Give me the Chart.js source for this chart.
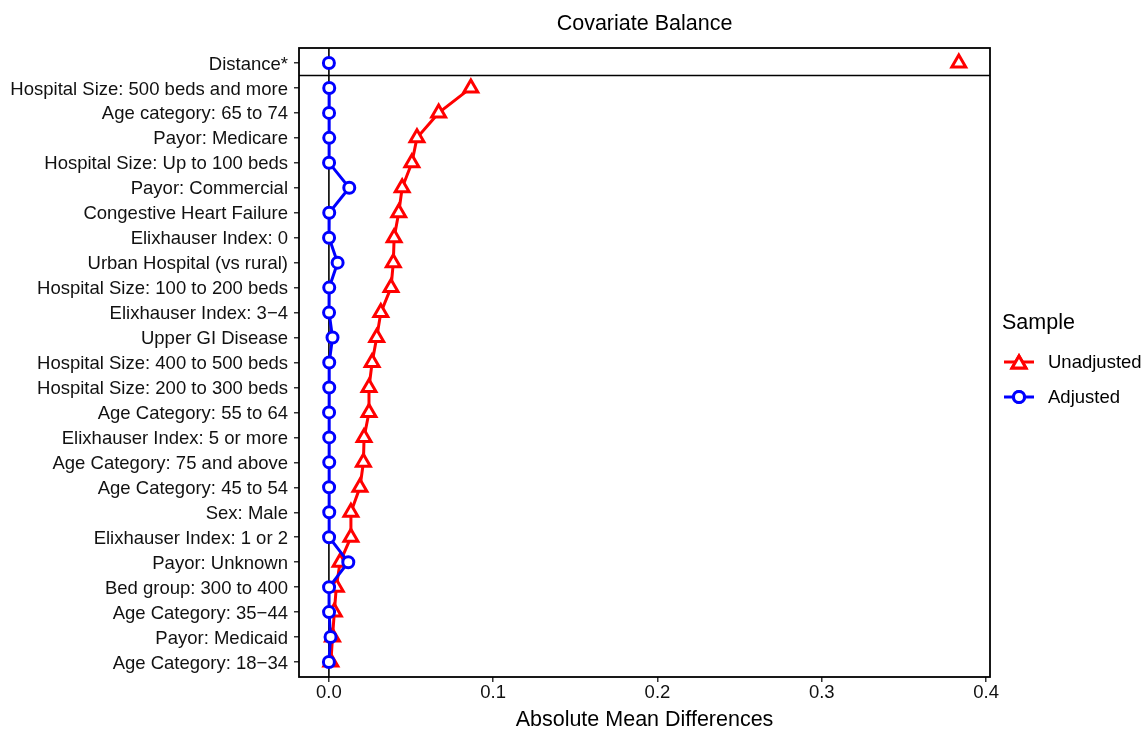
<!DOCTYPE html>
<html>
<head>
<meta charset="utf-8">
<script src="https://cdn.jsdelivr.net/npm/chart.js@4"></script>
<style>
  html, body { margin: 0; padding: 0; background: #fff; }
  #wrap { width: 1143px; height: 730px; }
</style>
</head>
<body>
<div id="wrap"><canvas id="chart" width="1143" height="730"></canvas></div>
<script>
// covariates, top to bottom
const covariates = [
  "Distance*",
  "Hospital Size: 500 beds and more",
  "Age category: 65 to 74",
  "Payor: Medicare",
  "Hospital Size: Up to 100 beds",
  "Payor: Commercial",
  "Congestive Heart Failure",
  "Elixhauser Index: 0",
  "Urban Hospital (vs rural)",
  "Hospital Size: 100 to 200 beds",
  "Elixhauser Index: 3\u22124",
  "Upper GI Disease",
  "Hospital Size: 400 to 500 beds",
  "Hospital Size: 200 to 300 beds",
  "Age Category: 55 to 64",
  "Elixhauser Index: 5 or more",
  "Age Category: 75 and above",
  "Age Category: 45 to 54",
  "Sex: Male",
  "Elixhauser Index: 1 or 2",
  "Payor: Unknown",
  "Bed group: 300 to 400",
  "Age Category: 35\u221244",
  "Payor: Medicaid",
  "Age Category: 18\u221234"
];

const unadjusted = [0.3834, 0.0864, 0.0668, 0.0536, 0.0505, 0.0446, 0.0425, 0.0397, 0.0392, 0.0378,
  0.0316, 0.0291, 0.0263, 0.0244, 0.0244, 0.0214, 0.0210, 0.0189, 0.0134, 0.0134,
  0.0068, 0.0045, 0.0033, 0.0022, 0.0012];

const adjusted = [0.0000, 0.0002, 0.0001, 0.0002, 0.0001, 0.0124, 0.0002, 0.0001, 0.0053, 0.0002,
  0.0001, 0.0022, 0.0002, 0.0002, 0.0001, 0.0002, 0.0002, 0.0001, 0.0002, 0.0001,
  0.0118, 0.0001, 0.0001, 0.0010, 0.0000];

const xTicks = [0, 0.1, 0.2, 0.3, 0.4];

const FONT = "'Liberation Sans', Arial, sans-serif";
const RED = "#ff0000";
const BLUE = "#0000ff";
const LW = 3;

const toPoints = (vals) => vals.map((v, i) => ({ x: v, y: i }));

// no line between Distance* and the rest
const skipFirst = (color) => (ctx) => ctx.p0DataIndex === 0 ? "rgba(0,0,0,0)" : color;

// reference lines, outer box, title and legend
const decor = {
  id: "decor",
  beforeDatasetsDraw(chart) {
    const ctx = chart.ctx;
    const a = chart.chartArea;
    const xs = chart.scales.x;
    const ys = chart.scales.y;
    ctx.save();
    ctx.strokeStyle = "#000";
    ctx.lineWidth = 1.6;
    let x0 = xs.getPixelForValue(0);
    ctx.beginPath();
    ctx.moveTo(x0, a.top);
    ctx.lineTo(x0, a.bottom);
    ctx.stroke();
    let yh = ys.getPixelForValue(0.5);
    ctx.beginPath();
    ctx.moveTo(a.left, yh);
    ctx.lineTo(a.right, yh);
    ctx.stroke();
    ctx.restore();
  },
  afterDraw(chart) {
    const ctx = chart.ctx;
    const a = chart.chartArea;
    ctx.save();
    ctx.strokeStyle = "#000";
    ctx.lineWidth = 1.8;
    ctx.strokeRect(a.left, a.top, a.right - a.left, a.bottom - a.top);

    // title
    ctx.fillStyle = "#000";
    ctx.font = "21.5px " + FONT;
    ctx.textAlign = "center";
    ctx.textBaseline = "middle";
    ctx.fillText("Covariate Balance", (a.left + a.right) / 2, 24);

    // legend
    ctx.textAlign = "left";
    ctx.fillText("Sample", 1002, 323);
    const items = [
      { label: "Unadjusted", color: RED, style: "triangle", r: 8, y: 362 },
      { label: "Adjusted", color: BLUE, style: "circle", r: 5.5, y: 397 }
    ];
    items.forEach((it) => {
      ctx.strokeStyle = it.color;
      ctx.lineWidth = LW;
      ctx.beginPath();
      ctx.moveTo(1004, it.y);
      ctx.lineTo(1034, it.y);
      ctx.stroke();
      ctx.fillStyle = "#fff";
      Chart.helpers.drawPoint(ctx, { pointStyle: it.style, radius: it.r, borderWidth: LW }, 1019, it.y + (it.style === "triangle" ? 2 : 0));
      ctx.fill();
      ctx.stroke();
      ctx.fillStyle = "#000";
      ctx.font = "18.5px " + FONT;
      ctx.fillText(it.label, 1048, it.y + 1);
    });
    ctx.restore();
  }
};

new Chart(document.getElementById("chart"), {
  type: "scatter",
  data: {
    datasets: [
      {
        label: "Adjusted",
        data: toPoints(adjusted),
        showLine: true,
        borderColor: BLUE,
        borderWidth: LW,
        pointStyle: "circle",
        pointRadius: 5.5,
        pointBorderWidth: LW,
        pointBorderColor: BLUE,
        pointBackgroundColor: "#fff",
        segment: { borderColor: skipFirst(BLUE) }
      },
      {
        label: "Unadjusted",
        data: toPoints(unadjusted),
        showLine: true,
        borderColor: RED,
        borderWidth: LW,
        pointStyle: "triangle",
        pointRadius: 8,
        pointBorderWidth: LW,
        pointBorderColor: RED,
        pointBackgroundColor: "#fff",
        segment: { borderColor: skipFirst(RED) }
      }
    ]
  },
  options: {
    responsive: false,
    animation: false,
    devicePixelRatio: 1,
    layout: { padding: { top: 48, right: 153, bottom: 0, left: 0 } },
    plugins: {
      legend: { display: false },
      tooltip: { enabled: false },
      title: { display: false }
    },
    scales: {
      x: {
        type: "linear",
        min: -0.0182,
        max: 0.4024,
        afterBuildTicks: (s) => { s.ticks = xTicks.map((v) => ({ value: v })); },
        afterFit: (s) => { s.height = 53; },
        border: { display: false },
        grid: { drawOnChartArea: false, drawTicks: true, tickLength: 5, color: "#333", lineWidth: 1.5 },
        ticks: {
          color: "#111",
          padding: 0,
          font: { family: FONT, size: 18.5 },
          callback: (v) => Number(v).toFixed(1)
        },
        title: {
          display: true,
          text: "Absolute Mean Differences",
          color: "#000",
          padding: { top: 0, bottom: -1 },
          font: { family: FONT, size: 21.5, lineHeight: 1 }
        }
      },
      y: {
        type: "linear",
        reverse: true,
        min: -0.6,
        max: covariates.length - 0.4,
        afterBuildTicks: (s) => { s.ticks = covariates.map((c, i) => ({ value: i })); },
        afterFit: (s) => { s.width = 299; },
        border: { display: false },
        grid: { drawOnChartArea: false, drawTicks: true, tickLength: 5, color: "#333", lineWidth: 1.5 },
        ticks: {
          color: "#111",
          padding: 6,
          labelOffset: 1.5,
          autoSkip: false,
          font: { family: FONT, size: 18.5 },
          callback: (v) => covariates[v]
        }
      }
    }
  },
  plugins: [decor]
});
</script>
</body>
</html>
